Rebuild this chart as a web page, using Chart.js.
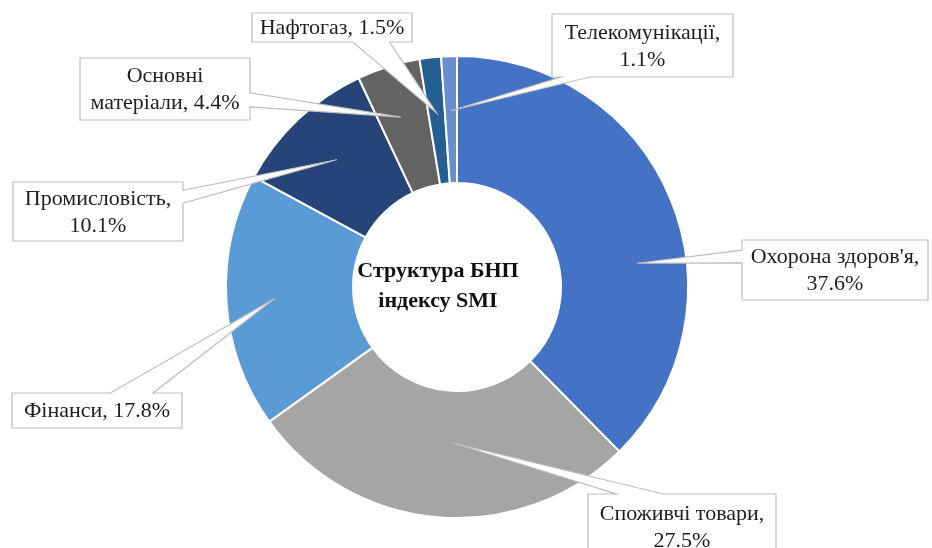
<!DOCTYPE html>
<html>
<head>
<meta charset="utf-8">
<script src="https://cdn.jsdelivr.net/npm/chart.js@4/dist/chart.umd.min.js"></script>
<style>
  html, body { margin: 0; padding: 0; background: #ffffff; }
  #wrap { width: 932px; height: 548px; position: relative; }
</style>
</head>
<body>
<div id="wrap"><canvas id="c" width="932" height="548"></canvas></div>
<script>
// Sector structure of the SMI index
const sectors = ["Охорона здоров'я", "Споживчі товари", "Фінанси", "Промисловість", "Основні матеріали", "Нафтогаз", "Телекомунікації"];
const shares = [37.6, 27.5, 17.8, 10.1, 4.4, 1.5, 1.1];
const labelLines = [
  ["Охорона здоров'я,", "37.6%"],
  ["Споживчі товари,", "27.5%"],
  ["Фінанси, 17.8%"],
  ["Промисловість,", "10.1%"],
  ["Основні", "матеріали, 4.4%"],
  ["Нафтогаз, 1.5%"],
  ["Телекомунікації,", "1.1%"]
];
const sliceColors = ["#4472C4", "#A5A5A5", "#5B9BD5", "#264478", "#636363", "#255E91", "#698ED0"];
const centerTitle = ["Структура БНП", "індексу SMI"];

// Callout boxes: rectangle, side the tail leaves from, tail base span along that side,
// tip placement inside the ring (fraction of ring width, angular shift in degrees)
const callouts = [
  { box: [742, 240, 186, 60], side: "left",   base: [0.17, 0.38], frac: 0.61, shift: 14.8 },
  { box: [588, 494, 188, 66], side: "top",    base: [0.15, 0.40], frac: 0.41, shift: -3.5 },
  { box: [12, 393, 170, 35],  side: "top",    base: [0.58, 0.83], frac: 0.62, shift: 0 },
  { box: [13, 182, 170, 59],  side: "right",  base: [0.14, 0.36], frac: 0.56, shift: 0 },
  { box: [80, 58, 170, 62],   side: "right",  base: [0.56, 0.79], frac: 0.59, shift: -1 },
  { box: [252, 13, 160, 29],  side: "bottom", base: [0.63, 0.86], frac: 0.56, shift: 0 },
  { box: [552, 14, 181, 63],  side: "bottom", base: [0.05, 0.21], frac: 0.57, shift: 0 }
];

const LABEL_FONT = "22px 'Liberation Serif', 'Times New Roman', serif";
const TITLE_FONT = "bold 22px 'Liberation Serif', 'Times New Roman', serif";

function calloutPath(ctx, c, tip) {
  const [x, y, w, h] = c.box;
  const r = x + w, b = y + h;
  ctx.beginPath();
  ctx.moveTo(x, y);
  if (c.side === "top") {
    ctx.lineTo(x + w * c.base[0], y);
    ctx.lineTo(tip.x, tip.y);
    ctx.lineTo(x + w * c.base[1], y);
  }
  ctx.lineTo(r, y);
  if (c.side === "right") {
    ctx.lineTo(r, y + h * c.base[0]);
    ctx.lineTo(tip.x, tip.y);
    ctx.lineTo(r, y + h * c.base[1]);
  }
  ctx.lineTo(r, b);
  if (c.side === "bottom") {
    ctx.lineTo(x + w * c.base[1], b);
    ctx.lineTo(tip.x, tip.y);
    ctx.lineTo(x + w * c.base[0], b);
  }
  ctx.lineTo(x, b);
  if (c.side === "left") {
    ctx.lineTo(x, y + h * c.base[1]);
    ctx.lineTo(tip.x, tip.y);
    ctx.lineTo(x, y + h * c.base[0]);
  }
  ctx.closePath();
}

const calloutPlugin = {
  id: "callouts",
  afterDraw(chart) {
    const ctx = chart.ctx;
    const arcs = chart.getDatasetMeta(0).data;
    ctx.save();
    arcs.forEach((arc, i) => {
      const c = callouts[i];
      const p = arc.getProps(["x", "y", "startAngle", "endAngle", "innerRadius", "outerRadius"], true);
      const mid = (p.startAngle + p.endAngle) / 2 + c.shift * Math.PI / 180;
      const rad = p.innerRadius + c.frac * (p.outerRadius - p.innerRadius);
      const tip = { x: p.x + Math.cos(mid) * rad, y: p.y + Math.sin(mid) * rad };
      calloutPath(ctx, c, tip);
      ctx.fillStyle = "#ffffff";
      ctx.fill();
      ctx.lineWidth = 1.2;
      ctx.strokeStyle = "#BDBDBD";
      ctx.lineJoin = "miter";
      ctx.stroke();

      const lines = labelLines[i];
      const [bx, by, bw, bh] = c.box;
      const lh = 27;
      const top = by + bh / 2 - (lines.length * lh) / 2 + lh / 2;
      ctx.font = LABEL_FONT;
      ctx.fillStyle = "#1e1e1e";
      ctx.textAlign = "center";
      ctx.textBaseline = "middle";
      lines.forEach((t, k) => ctx.fillText(t, bx + bw / 2, top + k * lh + 1));
    });

    // centre title
    ctx.font = TITLE_FONT;
    ctx.fillStyle = "#111111";
    ctx.textAlign = "center";
    ctx.textBaseline = "middle";
    ctx.fillText(centerTitle[0], 438, 271);
    ctx.fillText(centerTitle[1], 438, 301);
    ctx.restore();
  }
};

new Chart(document.getElementById("c"), {
  type: "doughnut",
  data: {
    labels: sectors,
    datasets: [{
      data: shares,
      backgroundColor: sliceColors,
      borderColor: "#ffffff",
      borderWidth: 2
    }]
  },
  options: {
    responsive: false,
    animation: false,
    cutout: "45%",
    rotation: 0,
    layout: { padding: { left: 225, right: 243, top: 55, bottom: 29 } },
    plugins: {
      legend: { display: false },
      tooltip: { enabled: false },
      title: { display: false }
    }
  },
  plugins: [calloutPlugin]
});
</script>
</body>
</html>
